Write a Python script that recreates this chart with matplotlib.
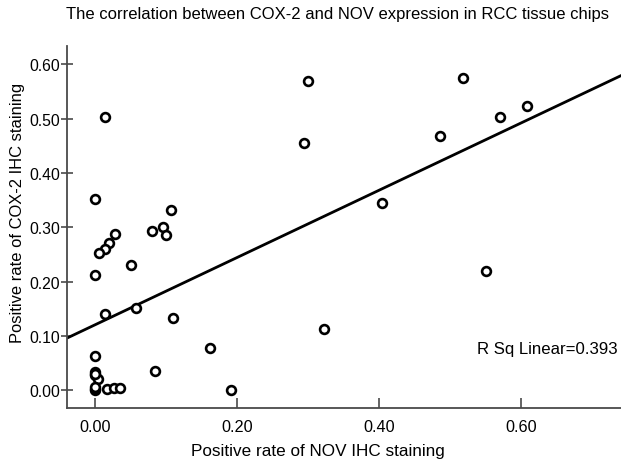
import matplotlib
matplotlib.use("Agg")
import matplotlib.pyplot as plt
import numpy as np

plt.rcParams["font.family"] = ["Liberation Sans", "DejaVu Sans"]

# NOV positive rate (x) vs COX-2 positive rate (y)
nov = [0.000, 0.108, 0.096, 0.080, 0.101, 0.028, 0.020, 0.015, 0.006, 0.051,
       0.000, 0.015, 0.058, 0.110, 0.163, 0.000, 0.000, 0.001, 0.004, 0.085,
       0.000, 0.000, 0.001, 0.018, 0.027, 0.035, 0.192, 0.015, 0.301, 0.294,
       0.518, 0.486, 0.570, 0.608, 0.404, 0.551, 0.323, 0.000]
cox = [0.352, 0.331, 0.300, 0.293, 0.285, 0.287, 0.271, 0.260, 0.252, 0.230,
       0.212, 0.140, 0.151, 0.133, 0.077, 0.063, 0.033, 0.028, 0.020, 0.035,
       0.000, 0.002, 0.006, 0.002, 0.004, 0.004, 0.000, 0.503, 0.569, 0.455,
       0.575, 0.468, 0.503, 0.523, 0.344, 0.219, 0.112, 0.030]

fit_intercept = 0.120
fit_slope = 0.62
r_sq = 0.393

xticks = [0.0, 0.2, 0.4, 0.6]
yticks = [0.0, 0.1, 0.2, 0.3, 0.4, 0.5, 0.6]

SPINE = "#4a4a4a"

fig = plt.figure(figsize=(6.21, 4.64), dpi=100)
ax = fig.add_axes([67 / 621, 1 - 409 / 464, 1 - 67 / 621, (409 - 47) / 464])

ax.scatter(nov, cox, s=40, facecolors="white", edgecolors="black",
           linewidths=1.9, zorder=3)

xlim = (-0.039, 0.741)
xs = np.array(xlim)
ax.plot(xs, fit_intercept + fit_slope * xs, color="black", lw=2.0, zorder=2)

ax.set_xlim(*xlim)
ax.set_ylim(-0.033, 0.634)
ax.set_xticks(xticks)
ax.set_yticks(yticks)
ax.xaxis.set_major_formatter(matplotlib.ticker.FormatStrFormatter("%.2f"))
ax.yaxis.set_major_formatter(matplotlib.ticker.FormatStrFormatter("%.2f"))

for s in ("top", "right"):
    ax.spines[s].set_visible(False)
for s in ("left", "bottom"):
    ax.spines[s].set_color(SPINE)
    ax.spines[s].set_linewidth(1.3)

ax.tick_params(axis="y", direction="inout", length=8, width=1.2, color=SPINE,
               labelsize=11.3, pad=1)
ax.tick_params(axis="x", direction="in", length=7, width=1.2, color=SPINE,
               labelsize=11.7, pad=8)

fig.text(477 / 621, 1 - 350 / 464, f"R Sq Linear={r_sq}",
         fontsize=12.1, va="center", ha="left")

fig.text(337 / 621, 1 - 15 / 464,
         "The correlation between COX-2 and NOV expression in RCC tissue chips",
         ha="center", va="center", fontsize=12)
fig.text(318 / 621, 1 - 452 / 464, "Positive rate of NOV IHC staining",
         ha="center", va="center", fontsize=12.3)
fig.text(18 / 621, 1 - 213 / 464, "Positive rate of COX-2 IHC staining",
         ha="center", va="center", rotation=90, fontsize=11.9)

fig.savefig("out.png", dpi=100)
